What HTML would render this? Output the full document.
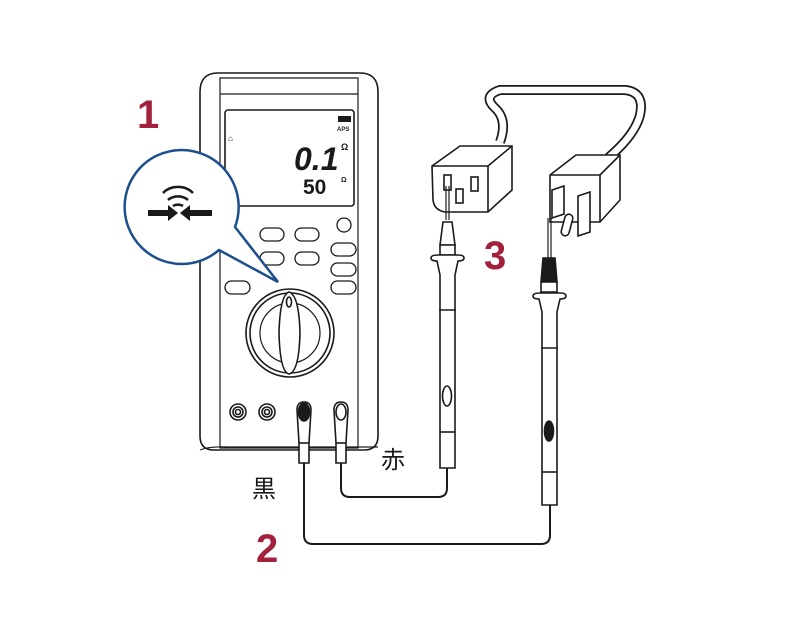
<!DOCTYPE html>
<html><head><meta charset="utf-8"><style>html,body{margin:0;padding:0;background:#fff}svg{display:block}</style></head><body>
<svg width="800" height="618" viewBox="0 0 800 618" xmlns="http://www.w3.org/2000/svg" fill="none" stroke="#1a1a1a" stroke-width="1.6" font-family="Liberation Sans, Noto Sans CJK JP, sans-serif">
<rect width="800" height="618" fill="#fff" stroke="none"/>
<!-- meter body -->
<path d="M218 73 H360 Q378 73 378 92 V436 Q378 450 364 450 H214 Q200 450 200 436 V92 Q200 73 218 73 Z" fill="#fff"/>
<path d="M220 78 H358 V448 H220 Z" stroke-width="1.2"/>
<line x1="220" y1="94" x2="358" y2="94" stroke-width="1.2"/>
<path d="M200 450 Q210 446 230 447 L378 447" stroke-width="1.2"/>
<!-- LCD -->
<rect x="225" y="110" width="129" height="96" rx="3" fill="#fff"/>
<text x="294" y="170" font-size="32" fill="#1a1a1a" stroke="none" font-weight="bold" font-style="italic">0.1</text>
<text x="303" y="194" font-size="21" fill="#1a1a1a" stroke="none" font-weight="bold">50</text>
<text x="341" y="150" font-size="9" fill="#1a1a1a" stroke="none" font-weight="bold">Ω</text>
<text x="341" y="182" font-size="7" fill="#1a1a1a" stroke="none" font-weight="bold">Ω</text>
<text x="337" y="131" font-size="6" fill="#1a1a1a" stroke="none" font-weight="bold">APS</text>
<rect x="338" y="116" width="13" height="6" fill="#1a1a1a" stroke="none"/>
<text x="228" y="141" font-size="8" fill="#1a1a1a" stroke="none">⌂</text>
<!-- buttons -->
<g stroke-width="1.3" fill="#fff">
<rect x="260" y="228" width="24" height="13" rx="6.5"/><rect x="295" y="228" width="24" height="13" rx="6.5"/>
<rect x="260" y="252" width="24" height="13" rx="6.5"/><rect x="295" y="252" width="24" height="13" rx="6.5"/>
<circle cx="344" cy="225" r="7"/>
<rect x="331" y="243" width="25" height="13" rx="6.5"/><rect x="331" y="263" width="25" height="13" rx="6.5"/>
<rect x="331" y="281" width="25" height="13" rx="6.5"/><rect x="225" y="281" width="25" height="13" rx="6.5"/>
</g>
<!-- dial -->
<circle cx="290" cy="333" r="44" fill="#fff"/>
<circle cx="290" cy="333" r="40"/>
<circle cx="290" cy="333" r="30" stroke-width="1.2"/>
<path d="M289 292 Q280 295 279 333 Q280 372 289 374 Q299 372 300 333 Q299 295 289 292 Z" fill="#fff"/>
<ellipse cx="289" cy="302" rx="2.5" ry="5"/>
<!-- jacks -->
<circle cx="238" cy="412" r="8"/><circle cx="238" cy="412" r="5"/><circle cx="238" cy="412" r="2.5"/>
<circle cx="267" cy="412" r="8"/><circle cx="267" cy="412" r="5"/><circle cx="267" cy="412" r="2.5"/>
<path d="M297 410 Q297 402 304 402 Q311 402 311 410 L309 443 V463 H299 V443 Z" fill="#fff"/>
<ellipse cx="304" cy="412" rx="5.5" ry="9" fill="#1a1a1a"/>
<line x1="299" y1="443" x2="309" y2="443"/>
<path d="M334 410 Q334 402 341 402 Q348 402 348 410 L346 443 V463 H336 V443 Z" fill="#fff"/>
<ellipse cx="341" cy="412" rx="5" ry="8"/>
<line x1="336" y1="443" x2="346" y2="443"/>
<!-- wires -->
<path d="M304 463 V535 Q304 544 313 544 H541 Q550 544 550 535 V505" stroke-width="2"/>
<path d="M341 463 V488 Q341 497 350 497 H438 Q447 497 447 488 V465" stroke-width="2"/>
<!-- callout -->
<path d="M235 227 L278 282 L219 250 A57 57 0 1 1 235 227 Z" fill="#fff" stroke="#1c4f8e" stroke-width="2.5"/>
<g stroke="#1a1a1a" stroke-width="2.5">
<path d="M163 193 A20 18 0 0 1 193 193"/><path d="M168 200 A14 12 0 0 1 188 200"/><path d="M173 206 A8 6 0 0 1 183 206"/>
</g>
<path d="M148 210 H168 V205 L178 213 L168 221 V216 H148 Z" fill="#1a1a1a" stroke="none"/>
<path d="M212 210 H190 V205 L180 213 L190 221 V216 H212 Z" fill="#1a1a1a" stroke="none"/>
<!-- cable loop -->
<path d="M500 142 Q508 120 495 108 Q482 96 500 90 H625 Q645 92 640 115 Q635 135 608 158" stroke-width="10"/>
<path d="M500 142 Q508 120 495 108 Q482 96 500 90 H625 Q645 92 640 115 Q635 135 608 158" stroke="#fff" stroke-width="6.5"/>
<!-- socket -->
<path d="M432 166 L460 146 H512 V190 L488 212 H445 Q434 210 433 200 Z" fill="#fff"/>
<path d="M432 166 H488 V212"/><path d="M488 166 L512 146"/>
<rect x="444" y="175" width="7" height="15"/><rect x="456" y="189" width="7" height="14"/><rect x="471" y="177" width="7" height="14"/>
<!-- plug -->
<path d="M550 175 L576 155 H620 V200 L600 222 H550 Z" fill="#fff"/>
<path d="M550 175 H600 V222"/><path d="M600 175 L620 155"/>
<path d="M552 190 L564 186 V214 L552 218 Z" fill="#fff"/><path d="M578 196 L590 192 V232 L578 236 Z" fill="#fff"/>
<rect x="563" y="214" width="8" height="22" rx="4" transform="rotate(15 567 225)" fill="#fff"/>
<!-- left probe -->
<line x1="446" y1="186" x2="446" y2="220" stroke-width="1.2"/><line x1="449" y1="186" x2="449" y2="220" stroke-width="1.2"/>
<path d="M443 222 H452 L455 245 H440 Z" fill="#fff"/>
<path d="M440 245 H455 V255 H440 Z" fill="#fff"/>
<path d="M431 258 Q431 255 438 255 H458 Q464 255 464 258 Q464 261 458 261 L455 275 V468 H440 V275 L437 261 Q431 261 431 258 Z" fill="#fff"/>
<line x1="439" y1="310" x2="456" y2="310"/><line x1="440" y1="432" x2="455" y2="432"/>
<ellipse cx="447" cy="396" rx="4.5" ry="10"/>
<!-- right probe -->
<line x1="548" y1="218" x2="548" y2="258" stroke-width="1.2"/><line x1="551" y1="218" x2="551" y2="258" stroke-width="1.2"/>
<path d="M543 258 H555 L557 282 H541 Z" fill="#1a1a1a"/>
<path d="M541 282 H557 V292 H541 Z" fill="#fff"/>
<path d="M533 296 Q533 293 540 293 H560 Q566 293 566 296 Q566 299 560 299 L557 312 V505 H542 V312 L539 299 Q533 299 533 296 Z" fill="#fff"/>
<line x1="541" y1="348" x2="558" y2="348"/><line x1="542" y1="472" x2="557" y2="472"/>
<ellipse cx="549" cy="431" rx="4.5" ry="10" fill="#1a1a1a"/>
<!-- labels -->
<g fill="#a3213c" stroke="none" font-weight="bold" font-size="40">
<text x="137" y="128">1</text><text x="256" y="562">2</text><text x="484" y="269">3</text>
</g>
<text x="252" y="497" font-size="24" fill="#1a1a1a" stroke="none">黒</text>
<text x="381" y="468" font-size="24" fill="#1a1a1a" stroke="none">赤</text>
</svg>
</body></html>
